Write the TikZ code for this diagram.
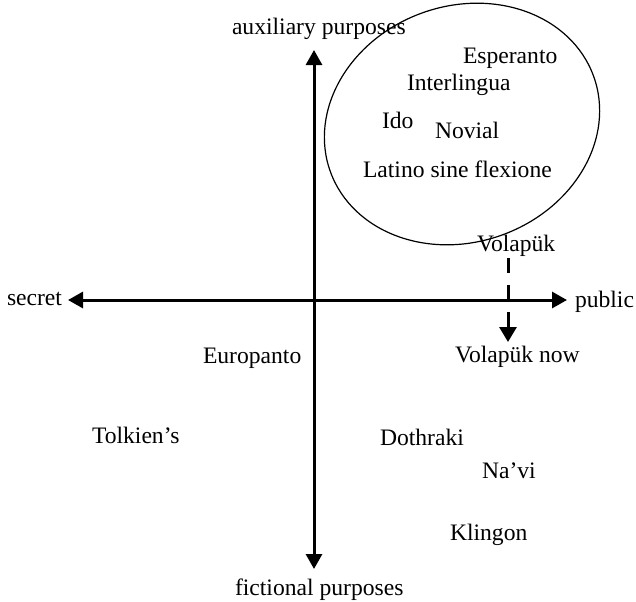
\documentclass[tikz,border=0pt]{standalone}
\usepackage{fontspec}
\setmainfont{Liberation Serif}
\usetikzlibrary{arrows.meta,shapes.geometric}
\begin{document}
\begin{tikzpicture}[x=0.5pt,y=-0.5pt,
  lbl/.style={anchor=base west,inner sep=0pt,outer sep=0pt,font=\fontsize{11.8pt}{14pt}\selectfont},
  axis/.style={line width=1.5pt,{Triangle[length=7.5pt,width=8pt]}-{Triangle[length=7.5pt,width=8pt]}},
  movearrow/.style={line width=1.5pt,dash pattern=on 7.5pt off 6pt,-{Triangle[length=7.5pt,width=8.5pt]}},
  group/.style={draw,ellipse,line width=0.6pt,minimum width=140pt,minimum height=118pt,inner sep=0pt}]
\useasboundingbox (0,0) rectangle (636,601);
% axes
\coordinate (top) at (314,50);
\coordinate (bottom) at (314,569);
\coordinate (left) at (68,300);
\coordinate (right) at (567,300);
\draw[axis] (bottom) -- (top);
\draw[axis] (left) -- (right);
% labels of axes
\node[lbl] (aux) at (232,34) {auxiliary purposes};
\node[lbl] (fic) at (235,595) {fictional purposes};
\node[lbl] (sec) at (7,305) {secret};
\node[lbl] (pub) at (575,307) {public};
% ellipse
\node[group,rotate=20] (ell) at (462,124) {};
% languages
\node[lbl] (esp) at (463,63) {Esperanto};
\node[lbl] (int) at (407,90) {Interlingua};
\node[lbl] (ido) at (382,128) {Ido};
\node[lbl] (nov) at (435,138) {Novial};
\node[lbl] (lat) at (363,177) {Latino sine flexione};
\node[lbl] (vol) at (477,251) {Volapük};
\node[lbl] (voln) at (455,362) {Volapük now};
\node[lbl] (eur) at (203,363) {Europanto};
\node[lbl] (tol) at (92,443) {Tolkien’s};
\node[lbl] (dot) at (380,445) {Dothraki};
\node[lbl] (nav) at (482,478) {Na’vi};
\node[lbl] (kli) at (450,540) {Klingon};
% dashed shift arrow
\coordinate (vs) at (508,258);
\coordinate (ve) at (508,342);
\draw[movearrow] (vs) -- (ve);
\end{tikzpicture}
\end{document}
